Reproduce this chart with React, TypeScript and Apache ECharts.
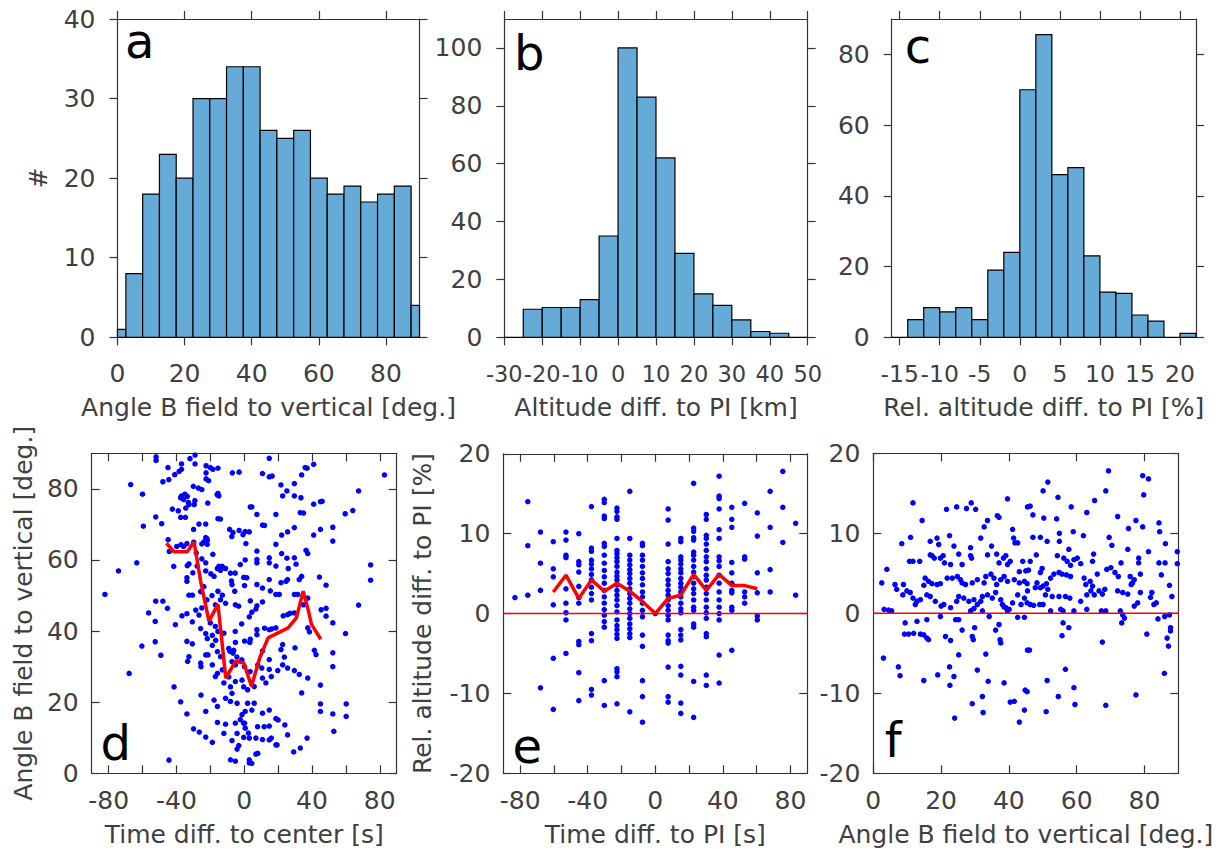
import React, { useEffect, useRef } from "react";
import * as echarts from "echarts";

// ---------- Histogram data ----------
const aBinEdges = [0, 2.5, 7.5, 12.5, 17.5, 22.5, 27.5, 32.5, 37.5, 42.5, 47.5, 52.5, 57.5, 62.5, 67.5, 72.5, 77.5, 82.5, 87.5, 90];
const aCounts = [1, 8, 18, 23, 20, 30, 30, 34, 34, 26, 25, 26, 20, 18, 19, 17, 18, 19, 4];

const bBinEdges = [-30, -25, -20, -15, -10, -5, 0, 5, 10, 15, 20, 25, 30, 35, 40, 45, 50];
const bCounts = [0, 9.7, 10.3, 10.3, 13, 35, 100, 83, 62, 29, 15, 11, 6, 2, 1.4, 0];

const cBinEdges = [-16, -14, -12, -10, -8, -6, -4, -2, 0, 2, 4, 6, 8, 10, 12, 14, 16, 18, 20, 22];
const cCounts = [0, 5, 8.4, 7.2, 8.4, 5, 19, 24, 70, 85.6, 46, 48, 23, 12.8, 12.4, 6.3, 4.6, 0, 1.1];

// ---------- Tick values ----------
const aXTicks = [0, 20, 40, 60, 80];
const aYTicks = [0, 10, 20, 30, 40];
const bXTicks = [-30, -20, -10, 0, 10, 20, 30, 40, 50];
const bYTicks = [0, 20, 40, 60, 80, 100];
const cXTicks = [-15, -10, -5, 0, 5, 10, 15, 20];
const cYTicks = [0, 20, 40, 60, 80];
const timeTicks = [-80, -60, -40, -20, 0, 20, 40, 60, 80];
const timeLabels = [-80, -40, 0, 40, 80];
const dYTicks = [0, 20, 40, 60, 80];
const relTicks = [-20, -10, 0, 10, 20];
const fXTicks = [0, 20, 40, 60, 80];

// ---------- Scatter d: time diff to center vs angle ----------
const dPoints = [
  [-52, 89], [-52, 88], [-48, 82], [-44.5, 82.6], [-45, 86], [-41, 84], [-37, 87], [-37, 85.5], [-38.4, 84.9], [-32, 88.5], [-29, 89.5], [-29, 87], [-22.5, 86.5], [-22.5, 84.5], [-22.5, 82.8], [-20, 86], [-18.5, 85.5], [-15.5, 85.8], [-7, 84.5], [-3, 84.7],
  [-67, 81.2], [-60, 78.5], [-37, 78], [-35.8, 77], [-33, 76.2], [-35, 78.5], [-30, 80.7], [-27, 80.2], [-25, 79.8], [-21.5, 76], [-21, 82.3], [-16, 78.4], [-15, 78], [-37.5, 77.5], [-33.6, 77.9], [-29.1, 76.7], [-29.5, 75.6], [-32.6, 75.6], [-34.5, 74.6], [-15.5, 78.7],
  [-59.5, 69.5], [-52.2, 72.1], [-48.7, 70.2], [-42.4, 74.3], [-38.9, 73.8], [-37.5, 72], [-34.7, 72], [-29.9, 68.6], [-26.7, 70.1], [-22.7, 70.1], [-22.7, 66.3], [-21.8, 65.5], [-18.5, 61.6], [-15.5, 71.6], [-14, 71.5], [-8.6, 68.6], [-6.6, 67.7], [-7.3, 66.6], [-3, 68.3], [-0.7, 67.1],
  [-63.4, 59.2], [-74.2, 56.9], [-44.9, 65.7], [-44.2, 62.4], [-41.6, 58.2], [-39.8, 63.8], [-37.3, 64.3], [-35.7, 63.8], [-33.8, 64.6], [-29.8, 65], [-25, 64.5], [-23.8, 65.1], [-21.8, 64.4], [-22, 66], [-28.3, 62], [-25, 60.3], [-32.6, 58.9], [-33.6, 58.4], [-30.3, 56.4], [-27.8, 58.3], [-22.7, 59.2], [-22.7, 56.9], [-19.7, 56.1], [-17.8, 55.4], [-15.8, 57.6], [-14, 57.1], [-11, 57.6], [-8.1, 56.3], [-7.5, 54.1], [-7.2, 53.1], [-5.6, 51.2], [-2.3, 58.7], [-0.3, 55.1], [-15, 58.2], [-13, 58.2], [-5.3, 56.3],
  [-82.2, 50.3], [-56.4, 45.1], [-52.5, 42.7], [-52.2, 48.4], [-45.3, 46.4], [-48, 48.4], [-33.8, 55], [-33.8, 54], [-32.6, 50.1], [-30.6, 50.1], [-25.7, 51.1], [-23.8, 52.5], [-12.9, 50.1], [-11, 47.8], [-28.6, 45.9], [-26.7, 44.5], [-30.6, 42.6], [-25.7, 40.7], [-22.7, 39.3], [-18.8, 38.8], [-16.8, 37.4], [-33.8, 37.1], [-30.6, 36.4], [-21.8, 37.9], [-18.8, 36], [-9.1, 35.1], [-6.2, 34.6], [-5.2, 36.8], [-5.2, 47.4], [-15.5, 51.2], [-19, 50], [-14, 48.8], [-17, 47.4], [-22, 48.8], [-25, 46.5],
  [-40.6, 41.8], [-36.7, 44.3], [-33.8, 44.9], [-20, 42.3], [-17, 41.3], [-15.5, 39.9], [-12, 39.4], [-5.3, 39.9], [-3.3, 47], [-1.5, 42],
  [-60.4, 35.8], [-52.5, 37], [-49.2, 33.2], [-67.9, 28.1],
  [-15.8, 34.2], [-13.9, 32.8], [-7.2, 31.4], [-5.2, 30.5], [-32.6, 32.8], [-22.7, 33.3], [-18.8, 30.5], [-15.8, 28.1], [-12.9, 29.1], [-25.7, 31], [-9.1, 27.1], [-8.1, 24.3], [-7.2, 22.5], [-5.2, 25.8], [-1.3, 26.2], [-0.3, 24.3], [-11, 21.1], [-8.1, 20.2], [-4.2, 19.7], [-17.8, 20.6], [-15.8, 18.8], [-22.7, 17.4], [-41.4, 24.3], [-37.5, 20.1], [-33.8, 16.7], [-29.9, 12.5], [-26.5, 11.6], [-22.7, 10.2], [-18.8, 8.7], [-15.8, 14.3], [-11, 13.8], [-12, 11.2], [-7.2, 9.2], [-4.2, 11.2], [-5.2, 14.1], [-0.3, 14.1], [-3.2, 7.8], [-4.2, 6.8], [-0.3, 10.1], [-8.1, 3.8], [-5.2, 3.4], [-44.4, 3.7], [-1.3, 16.5], [-2.3, 15.1], [-25.5, 22], [-12, 25.4], [-17, 27.2], [-21.4, 33.3], [-1.4, 31.9], [-4.3, 32.7], [-8.4, 34.3], [-6.6, 33.8], [-25.5, 30], [-33.4, 31.5],
  [14.8, 88.6], [10.8, 84.3], [14.8, 83.4], [21.7, 81.1], [25.2, 79.4], [29.6, 81.5], [22.7, 78], [29.6, 78], [33.5, 77.5], [37.1, 85.8], [41, 86.9], [33.9, 83.9], [82.8, 83.9], [67.5, 79.4], [59.6, 73], [64.1, 73.9], [41, 75.7], [45, 76.4], [3.6, 74.9], [7.5, 72.8], [18.7, 72.8], [33.1, 73.3], [10.8, 69.8], [22.1, 67], [25.6, 67.9], [29.6, 69.1], [41, 67], [45, 68.6], [52.3, 69.2], [52.3, 65.3], [3, 67.9], [18.7, 64.4], [22.1, 61.8], [25.2, 60.5], [7.5, 62.5], [7.5, 60.1], [7.5, 59.2], [14.8, 60.6], [14.8, 59.2], [18.7, 58.3], [29.6, 60.6], [30.6, 58.8], [26, 57.6], [36.5, 62.7], [37.5, 61.8], [74.6, 58.6], [74.6, 54.3], [44.4, 55.2], [48.3, 52.9], [7.5, 53.1], [10.8, 52.1], [14.8, 54.5], [21.7, 53.6], [24.7, 54], [25.6, 54.5], [15.4, 51.3], [18.7, 50.3], [29.6, 50.3], [31.6, 50.3], [32.5, 54.5], [33.9, 55.4], [3.6, 48.5], [7.5, 47.1], [6.9, 46.2], [10.8, 48.2], [20.7, 50.3], [25.6, 44.6], [29.6, 45.1], [37.5, 49.3], [37.5, 40.9], [45.4, 46], [48.3, 46.4], [48.3, 44.2], [52.3, 42.3], [38.5, 39.8], [41.4, 34.6], [42.4, 33.4], [52.3, 33.9], [52.3, 30], [59.8, 39.3], [67.5, 47.3], [3, 44], [3.6, 37.7], [7.5, 40.4], [7.5, 39], [14.8, 40.4], [18.7, 40.9], [10.8, 34.4], [14.8, 32], [14.8, 29.2], [21.7, 34.8], [22.7, 36.2], [23.7, 32.7], [22.7, 30.5], [25.6, 29.6], [10.8, 26.8], [12.8, 25.4], [30, 35.3], [29.6, 28.9], [32.5, 27.8], [37.5, 26.8], [33.9, 22.6], [45, 24.8], [45, 19.5], [45, 17.4], [52.3, 16.7], [52.9, 11.8], [60.2, 19.5], [60.2, 16], [2, 23.5], [5.9, 24.4], [2, 19.7], [5.9, 19.7], [10.8, 16.9], [14.8, 17.8], [7.9, 13.1], [11.8, 13.1], [14.8, 13.3], [18.7, 15.4], [3, 9.9], [6.9, 9.9], [10.8, 9.5], [14.8, 9.4], [18.7, 8], [25.6, 10.8], [29.2, 6], [33.1, 7.1], [37.1, 9.9], [3, 3.8], [3, 2.9], [6.9, 5.4],
  [1.5, 55], [0.2, 52.8], [0.2, 37.2], [3.3, 36.8], [4.5, 45.3], [0.2, 30], [3.5, 28.6], [0.6, 17.4], [4.5, 17.8], [0.2, 14.1], [0.6, 12.7], [2.5, 11.3], [4.5, 2.8], [8, 5.6], [16, 9.9], [19.4, 8], [24, 13.6], [20, 15], [12, 40.8], [16.3, 40.6], [8, 30.5], [10.4, 29.6], [16, 27.2], [19.8, 28.9], [23, 44.3], [27, 45], [35, 47.4], [46, 76.5], [35, 73.2], [16.5, 83.6], [36, 86], [12, 69.7], [0.6, 60], [1, 64.6], [0.6, 68], [4.5, 74.9],
];
const dTrend = [
  [-45.9, 64.7], [-41.4, 62.3], [-33.6, 62.3], [-29.6, 65.1], [-25.7, 54], [-20.8, 42.8], [-15.5, 47.5], [-12.9, 36], [-10.9, 26.8], [-5.1, 31.5], [-0.2, 31], [4.3, 24.5], [9.2, 32.5], [14.1, 38.1], [20, 39.5], [25.9, 40.9], [30.8, 43.7], [34.8, 51.2], [37.7, 46.1], [39.7, 41.9], [45.2, 37.7],
];

// ---------- Scatter e: time diff to PI vs relative altitude diff ----------
const ePoints = [
  [-83.1, 2.0],
  [-75.5, 14], [-75.5, 8.5], [-75.5, 2.3],
  [-68, 10.2], [-68, 6.3], [-68, 2.9], [-68, -9.3],
  [-60.4, 9], [-60.4, 5.6], [-60.4, 4.6], [-60.4, 1.1], [-60.4, -5.6], [-60.4, -12],
  [-52.9, 10.2], [-52.9, 9.2], [-52.9, 7.3], [-52.9, 7.0], [-52.9, 3.1], [-52.9, 1.3], [-52.9, 0.1], [-52.9, -0.8], [-52.9, -5],
  [-45.3, 10], [-45.3, 6.5], [-45.3, 6.1], [-45.3, 5.2], [-45.3, 3.4], [-45.3, 2], [-45.3, 1.3], [-45.3, -3.5], [-45.3, -3.9], [-45.3, -7.4], [-45.3, -10.9],
  [-37.8, 13.4], [-37.8, 8.2], [-37.8, 7.8], [-37.8, 6.7], [-37.8, 6.2], [-37.8, 5.6], [-37.8, 4.9], [-37.8, 4.2], [-37.8, 3.3], [-37.8, 2.5], [-37.8, 1.7], [-37.8, -2.5], [-37.8, -3.4], [-37.8, -9.5], [-37.8, -10.2],
  [-30.2, 14.3], [-30.2, 13.9], [-30.2, 12.2], [-30.2, 11.9], [-30.2, 8.8], [-30.2, 8.4], [-30.2, 7.3], [-30.2, 6.3], [-30.2, 5.4], [-30.2, 4.6], [-30.2, 3.8], [-30.2, 2.9], [-30.2, 2.1], [-30.2, 1.3], [-30.2, 0.5], [-30.2, -0.2], [-30.2, -1.0], [-30.2, -1.7], [-30.2, -8.4], [-30.2, -11.5],
  [-22.7, 13.2], [-22.7, 12.8], [-22.7, 12.1], [-22.7, 11.8], [-22.7, 9.4], [-22.7, 7.9], [-22.7, 7.5], [-22.7, 7], [-22.7, 6.5], [-22.7, 5.9], [-22.7, 5.2], [-22.7, 4.7], [-22.7, 4.2], [-22.7, 3.6], [-22.7, 2.9], [-22.7, 2.3], [-22.7, 1.7], [-22.7, 1], [-22.7, 0.2], [-22.7, -0.8], [-22.7, -1.5], [-22.7, -2], [-22.7, -2.6], [-22.7, -3.1], [-22.7, -6.9], [-22.7, -7.3], [-22.7, -7.9], [-22.7, -11.3],
  [-15.1, 15.3], [-15.1, 9.4], [-15.1, 7.3], [-15.1, 6.7], [-15.1, 6.1], [-15.1, 5.5], [-15.1, 5], [-15.1, 4.4], [-15.1, 3.8], [-15.1, 3.1], [-15.1, 2.5], [-15.1, 1.9], [-15.1, 1.3], [-15.1, 0.6], [-15.1, 0], [-15.1, -0.6], [-15.1, -1.3], [-15.1, -1.9], [-15.1, -2.5], [-15.1, -3], [-15.1, -12.3],
  [-7.6, 8.8], [-7.6, 8.5], [-7.6, 7.3], [-7.6, 6.7], [-7.6, 5.9], [-7.6, 5.1], [-7.6, 4.4], [-7.6, 3.6], [-7.6, 2.7], [-7.6, 2.1], [-7.6, 1.3], [-7.6, 0.4], [-7.6, -0.4], [-7.6, -2.7], [-7.6, -4.1], [-7.6, -8.4], [-7.6, -10.4], [-7.6, -13.6],
  [0, 0],
  [7.6, 13.1], [7.6, 11.7], [7.6, 8.7], [7.6, 6.5], [7.6, 5.6], [7.6, 5], [7.6, 4.2], [7.6, 3.6], [7.6, 2.9], [7.6, 2.3], [7.6, 1.7], [7.6, 1], [7.6, 0.4], [7.6, -0.2], [7.6, -0.8], [7.6, -2.7], [7.6, -3.4], [7.6, -3.7], [7.6, -6.7], [7.6, -10.4], [7.6, -11.1],
  [15.1, 9.4], [15.1, 9], [15.1, 7.1], [15.1, 6.7], [15.1, 6.2], [15.1, 5.6], [15.1, 5.1], [15.1, 4.4], [15.1, 3.8], [15.1, 3.3], [15.1, 2.7], [15.1, 2.1], [15.1, 1.3], [15.1, 0.6], [15.1, 0.1], [15.1, -2], [15.1, -2.7], [15.1, -3.3], [15.1, -6.6], [15.1, -7.7], [15.1, -11.2], [15.1, -12.5],
  [22.7, 16.3], [22.7, 10.7], [22.7, 10.3], [22.7, 9.5], [22.7, 9.2], [22.7, 7.7], [22.7, 7.3], [22.7, 6.7], [22.7, 5.9], [22.7, 5.2], [22.7, 4.6], [22.7, 3.8], [22.7, 3.1], [22.7, 2.5], [22.7, 1.7], [22.7, 0.8], [22.7, 0.4], [22.7, -1.3], [22.7, -1.7], [22.7, -8.5], [22.7, -13],
  [30.2, 12.4], [30.2, 11.8], [30.2, 9.8], [30.2, 9.4], [30.2, 8.7], [30.2, 7.9], [30.2, 7.1], [30.2, 6.5], [30.2, 5.6], [30.2, 4.8], [30.2, 4.2], [30.2, 3.3], [30.2, 2.5], [30.2, 1.7], [30.2, 0.8], [30.2, 0.1], [30.2, -0.6], [30.2, -2.5], [30.2, -2.9], [30.2, -7.7], [30.2, -9],
  [37.8, 17.2], [37.8, 14.7], [37.8, 14.4], [37.8, 13.1], [37.8, 10.5], [37.8, 9.4], [37.8, 7.1], [37.8, 6.6], [37.8, 5.9], [37.8, 4.8], [37.8, 3.8], [37.8, 2.7], [37.8, 1.7], [37.8, 0.8], [37.8, 0], [37.8, -0.8], [37.8, -5.2], [37.8, -8.7],
  [45.3, 13.3], [45.3, 11.8], [45.3, 10.8], [45.3, 6.4], [45.3, 5.1], [45.3, 3.8], [45.3, 2.9], [45.3, 2.6], [45.3, 0.8], [45.3, 0.4], [45.3, -4.6],
  [52.9, 13.8], [52.9, 7.1], [52.9, 6.8], [52.9, 2.7], [52.9, 2.1], [52.9, 1.3],
  [60.4, 12.6], [60.4, 9.7], [60.4, 5.1], [60.4, 2.6], [60.4, -0.3], [60.4, -0.8],
  [68, 15.3], [68, 10.8], [68, 5.5], [68, 2.7],
  [75.5, 17.8], [75.5, 13.3], [75.5, 8.9],
  [83.1, 11.3], [83.1, 2.3],
];
const eTrend = [
  [-60.4, 2.7], [-52.9, 4.8], [-45.3, 1.9], [-37.8, 4.2], [-30.2, 2.8], [-22.7, 3.8], [-15.1, 2.8], [-7.6, 1.5], [0, 0], [7.6, 1.9], [15.1, 2.3], [22.7, 4.9], [30.2, 2.9], [37.8, 4.9], [45.3, 3.5], [52.9, 3.5], [60.4, 3.1],
];
const eZeroLine = [[-90, 0], [90, 0]];

// ---------- Scatter f: angle vs relative altitude diff ----------
const fPoints = [
  [11.7, 13.8], [21.6, 13.0], [24.6, 13.3], [27.5, 13.1], [28.9, 13.8], [30.2, 13.0], [39.6, 14.3], [45.5, 13.3],
  [14.4, 11.6], [33.7, 11.6], [32.7, 10.8], [36.6, 12.2], [37.1, 12.0],
  [22.5, 9.7], [11, 9.5], [8.4, 8.7], [16.8, 9.0], [18.8, 9.4], [19.3, 8.6], [23.8, 8.4], [31.7, 9.4], [41.1, 10.5], [41.4, 9.4], [41.8, 8.8], [42.6, 8.8],
  [28.7, 8.2], [34.9, 8.4],
  [10.7, 6.5], [11.7, 6.5], [13.7, 6.5], [16.8, 7.3], [17.3, 7.2], [18, 6.9], [19.8, 6.9], [20.6, 7.2], [21, 6.3], [22.8, 6.1], [25.2, 7.4], [26.2, 6.1], [28.7, 7.2], [29, 6.9], [33.7, 7.3], [36.4, 7.4], [37.1, 6.3], [38.4, 6.9], [39.1, 7.2], [39.6, 6.1], [40.4, 6.5], [44.1, 6.5], [43.1, 5.2], [45, 5.3],
  [15.3, 4.4], [16.3, 4], [14.9, 3.5], [17.3, 3.7], [18.8, 3.6], [19.8, 3.7], [21.8, 4.4], [23.3, 4.4], [24.8, 4.6], [25.7, 4.2], [26.2, 3.8], [27.2, 3.6], [29.2, 3.8], [30.7, 4.2], [32.7, 3.8], [33.2, 4.6], [34.7, 4.9], [35.6, 4.4], [36.4, 3.6], [37.6, 4.2], [38.6, 4.6], [39.6, 4], [41.6, 4.2], [43.1, 3.8], [44.6, 4],
  [2.5, 3.8], [6.4, 3.6], [6.9, 3], [8.9, 3.6], [8.7, 2.3], [9.9, 2.8], [10.9, 2.6], [11.7, 1.9], [12.9, 1.5], [12.4, 1.1], [13.9, 1.7], [15.8, 2.3], [16.8, 2.1], [18.3, 1.5], [20, 0.9], [20.8, 1.1], [22.8, 0.7], [24.6, 1.5], [25.2, 2.1], [26.7, 1.9], [28.2, 1.5], [29.7, 1.7], [30.7, 1.1], [31.7, 1.5], [32.2, 2.1], [33.7, 2.3], [35.1, 1.9], [36.1, 2.6], [37.6, 1.7], [38.1, 1.1], [39.1, 0.7], [40.1, 0.5], [41.1, 1.3], [42.6, 2.3], [43.6, 1.1], [44.6, 1.9], [45.5, 2.8],
  [3.2, 0.5], [4.5, 0.4], [5.4, 0.3], [4, 5.5], [19.8, -0.4], [24.3, -0.8], [25.2, -0.8], [28.7, 0.3], [29.7, 0.6], [32.2, 0.3], [34.2, -0.4], [38.6, 0.8], [39.6, 0.3], [42.6, -0.5], [44.6, -0.5],
  [9.4, -1.2], [12.9, -1], [15.8, -0.8], [26.2, -2.1], [29.2, -2.9], [29.5, -3.3], [29.9, -1.8], [36.1, -2.1], [37.1, -1.4], [37.4, -3.3], [37.6, -3.7], [45.5, -4.6],
  [9.2, -2.6], [10.4, -2.6], [11.9, -2.5], [13.9, -2.6], [14.9, -2.7], [15.8, -3.1], [16.3, -3.3], [21.3, -2.9], [22.8, -3.4], [33.2, -5.1], [25.2, -5.2],
  [3, -5.6], [7.4, -6.7], [7.9, -7.8], [14.9, -8.4], [19, -7.7], [22.5, -6.7], [22.6, -9], [23.8, -7.9], [30.7, -7.1], [33.9, -8.5], [38.6, -8.7], [44.8, -9.6],
  [29.2, -11.3], [32.2, -10.4], [32.4, -12.4], [40.4, -11.1], [41.6, -11], [43.1, -13.6], [24, -13.1], [44.6, -12.1],
  [69.4, 17.8], [79.5, 17.2], [81.2, 16.8], [51.5, 16.4], [50.1, 15.3], [68.6, 15.3], [79.8, 14.8], [54.5, 14.5], [46.3, 13.4], [47.1, 12.3], [58.4, 13.3], [65.3, 14.1], [63, 12.6], [50.3, 11.9], [54.1, 11.8], [72.1, 12.1], [77.5, 11.6], [79.5, 10.8], [84.3, 11.3], [75.3, 10.6], [84.5, 10.2], [86.2, 8.7], [89.7, 7.7], [89.7, 6.2],
  [47.1, 9.5], [49.3, 9.5], [51.3, 9.0], [54.9, 10], [54.9, 9.0], [59, 10.2], [62, 9.7], [69.6, 9.5], [70.4, 8.5], [75.1, 8.0], [81.2, 7.7], [78.3, 6.9], [78.3, 6.3], [84.3, 6.3], [86.1, 6.3], [73.1, 6.3], [65, 7.4], [64.7, 6.5], [57.7, 8.0], [48.1, 7.3],
  [54.3, 7.2], [56.2, 6.9], [57.2, 6.5], [59.2, 6.7], [60.2, 6.9], [61.2, 6.2], [58.2, 6.0], [46.3, 6.5], [45.8, 5.4], [49.8, 5.6], [49.3, 5.1], [48.3, 3.8], [50.1, 3.4], [51.1, 3.7], [51.5, 3.0], [52.3, 4.4],
  [53.3, 4.9], [54.8, 5.1], [55.7, 4.9], [57, 4.8], [58.2, 4.6], [62.2, 4.4], [64, 4.0], [62.7, 3.6], [64.7, 3.4], [66.1, 4.9], [68.9, 5.5], [70.1, 5.7], [71.3, 5.1], [72.3, 4.6], [75.8, 4.6], [76.5, 3.8], [77, 4.2], [78.8, 4.9], [85, 4.8], [87.4, 3.5], [88.1, 2.1],
  [45.4, 3.7], [47.8, 3.2], [49.3, 3.2], [50.8, 2.3], [52.8, 2.1], [54.8, 2.1], [56.7, 2.1], [58, 1.9], [61.2, 1.5], [63, 2.3], [64.2, 2.8], [65.2, 2.3], [66.6, 2.8], [67.6, 2.4], [68.3, 3.0], [72.1, 2.8], [73.6, 2.6], [75.1, 2.4], [76.1, 3.6], [77, 0.9], [78, 1.3], [78.8, 2.6], [82.2, 2.6], [81.8, 2.0], [83.5, 1.3], [82.8, 1.1],
  [45.4, 1.3], [46.3, 1.1], [47.3, 1.0], [49.1, 1.1], [50.1, 1.1], [52.3, 0.3], [55.3, 0.5], [56, 0.3], [59.2, 0.3], [63, 0.5], [67.3, 0.3], [68.6, 0.3], [72.9, 0.3], [73.6, -0.2], [74.1, -0.6], [73.3, -1.2], [84, -0.7], [86, -0.4], [87.4, -0.2], [87.7, -1.8], [87.7, -2.2], [86.7, -3.1], [87.1, -4.1],
  [56, -1.2], [57.7, -1.8], [55.7, -2.8], [67.6, -3.6], [80.7, -2.6], [46.1, -4.6],
  [56.7, -7.0], [85.9, -7.5], [51.3, -8.4], [59.2, -9.3], [54.6, -10.4], [77.5, -10.2], [59.5, -11.4], [68.6, -11.5], [51, -12.3], [45.4, -9.8],
];
const fZeroLine = [[0, 0], [90, 0]];

// ---------- styling ----------
const FONT = "'DejaVu Sans', sans-serif";
const TXT = "#404040";
const LINE = "#333333";
const FS = 25;
const BAR = "#66aad7";

const panels = [
  { grid: { left: 117.5, top: 19, width: 302, height: 318.3 }, x: [0, 90], xTicks: aXTicks, xLabels: aXTicks, xFs: 25, y: [0, 40], yTicks: aYTicks, inside: false, xName: "Angle B field to vertical [deg.]", yName: "#", xMargin: 24, yMargin: 22, xGap: 58, yGap: 67 },
  { grid: { left: 504.3, top: 19, width: 303.4, height: 318.3 }, x: [-30, 50], xTicks: bXTicks, xLabels: bXTicks, xFs: 22.5, y: [0, 110], yTicks: bYTicks, inside: false, xName: "Altitude diff. to PI [km]", yName: "", xMargin: 25, yMargin: 22, xGap: 58, yGap: 67 },
  { grid: { left: 891.7, top: 19, width: 304.3, height: 318.3 }, x: [-16, 22], xTicks: cXTicks, xLabels: cXTicks, xFs: 23.5, y: [0, 90], yTicks: cYTicks, inside: false, xName: "Rel. altitude diff. to PI [%]", yName: "", xMargin: 25, yMargin: 22, xGap: 58, yGap: 67 },
  { grid: { left: 91.7, top: 453.3, width: 305, height: 320 }, x: [-90, 90], xTicks: timeTicks, xLabels: timeLabels, xFs: 25, y: [0, 90], yTicks: dYTicks, inside: true, xName: "Time diff. to center [s]", yName: "Angle B field to vertical [deg.]", xMargin: 15, yMargin: 13, xGap: 49, yGap: 56 },
  { grid: { left: 503.3, top: 453.8, width: 304, height: 319.5 }, x: [-90, 90], xTicks: timeTicks, xLabels: timeLabels, xFs: 25, y: [-20, 20], yTicks: relTicks, inside: true, xName: "Time diff. to PI [s]", yName: "Rel. altitude diff. to PI [%]", xMargin: 15, yMargin: 13, xGap: 49, yGap: 68 },
  { grid: { left: 873.3, top: 453.3, width: 305, height: 320 }, x: [0, 90], xTicks: fXTicks, xLabels: fXTicks, xFs: 25, y: [-20, 20], yTicks: relTicks, inside: true, xName: "Angle B field to vertical [deg.]", yName: "", xMargin: 15, yMargin: 13, xGap: 49, yGap: 68 },
];

const letters = [
  { t: "a", x: 125, y: 41.4 },
  { t: "b", x: 514, y: 53.4 },
  { t: "c", x: 904.7, y: 46.4 },
  { t: "d", x: 100.6, y: 743.4 },
  { t: "e", x: 512.4, y: 746.4 },
  { t: "f", x: 884.7, y: 740.4 },
];

function axis(i: number, p: any, isX: boolean, main: boolean) {
  const lineStyle = { color: LINE, width: 1.2 };
  const textStyle = { fontSize: FS, fontFamily: FONT, color: TXT };
  const range = isX ? p.x : p.y;
  const ticks = isX ? p.xTicks : p.yTicks;
  const labels = isX ? p.xLabels : p.yTicks;
  const name = main ? (isX ? p.xName : p.yName) : "";
  return {
    type: "value",
    gridIndex: i,
    position: isX ? (main ? "bottom" : "top") : main ? "left" : "right",
    min: range[0],
    max: range[1],
    axisLine: { show: true, onZero: false, lineStyle },
    axisTick: { show: true, inside: p.inside, length: 8, lineStyle, customValues: ticks },
    minorTick: { show: false },
    splitLine: { show: false },
    axisLabel: {
      show: main,
      customValues: labels,
      interval: 0,
      margin: isX ? p.xMargin : p.yMargin,
      hideOverlap: false,
      showMinLabel: true,
      showMaxLabel: true,
      ...textStyle,
      fontSize: isX ? p.xFs : FS,
    },
    name,
    nameLocation: "middle",
    nameGap: isX ? p.xGap : p.yGap,
    nameTextStyle: textStyle,
    silent: true,
  };
}

function histSeries(i: number, edges: number[], counts: number[]) {
  const data = counts.map((v, k) => [edges[k], edges[k + 1], v]);
  return {
    type: "custom",
    xAxisIndex: 2 * i,
    yAxisIndex: 2 * i,
    data,
    encode: { x: [0, 1], y: 2 },
    silent: true,
    z: 2,
    renderItem: (_params: any, api: any) => {
      const p0 = api.coord([api.value(0), api.value(2)]);
      const p1 = api.coord([api.value(1), 0]);
      return {
        type: "rect",
        shape: { x: p0[0], y: p0[1], width: p1[0] - p0[0], height: p1[1] - p0[1] },
        style: { fill: BAR, stroke: "#000", lineWidth: 1.2 },
      };
    },
  };
}

function scatterSeries(i: number, pts: number[][]) {
  return {
    type: "scatter",
    xAxisIndex: 2 * i,
    yAxisIndex: 2 * i,
    data: pts,
    symbol: "circle",
    symbolSize: 5.5,
    itemStyle: { color: "#0000ff", opacity: 1 },
    silent: true,
    z: 3,
  };
}

function lineSeries(i: number, pts: number[][], width: number) {
  return {
    type: "line",
    xAxisIndex: 2 * i,
    yAxisIndex: 2 * i,
    data: pts,
    showSymbol: false,
    symbol: "none",
    lineStyle: { color: "#ff0000", width },
    silent: true,
    z: 4,
  };
}

export default function App() {
  const ref = useRef<HTMLDivElement>(null);
  useEffect(() => {
    if (!ref.current) return;
    const chart = echarts.init(ref.current, null, { renderer: "svg" });
    const xAxis: any[] = [];
    const yAxis: any[] = [];
    panels.forEach((p, i) => {
      xAxis.push(axis(i, p, true, true), axis(i, p, true, false));
      yAxis.push(axis(i, p, false, true), axis(i, p, false, false));
    });
    const option: any = {
      animation: false,
      backgroundColor: "#ffffff",
      textStyle: { fontFamily: FONT },
      grid: panels.map((p) => ({ ...p.grid, containLabel: false })),
      xAxis,
      yAxis,
      series: [
        histSeries(0, aBinEdges, aCounts),
        histSeries(1, bBinEdges, bCounts),
        histSeries(2, cBinEdges, cCounts),
        scatterSeries(3, dPoints),
        lineSeries(3, dTrend, 3.5),
        scatterSeries(4, ePoints),
        lineSeries(4, eZeroLine, 1.5),
        lineSeries(4, eTrend, 3.5),
        scatterSeries(5, fPoints),
        lineSeries(5, fZeroLine, 1.5),
      ],
      graphic: letters.map((l) => ({
        type: "text",
        x: l.x,
        y: l.y,
        z: 10,
        style: {
          text: l.t,
          fontSize: 48,
          fontFamily: FONT,
          fill: "#000",
          verticalAlign: "middle",
          textVerticalAlign: "middle",
        },
      })),
    };
    chart.setOption(option);
    return () => chart.dispose();
  }, []);
  return (
    <div
      ref={ref}
      style={{ position: "absolute", left: 0, top: 0, width: 1225, height: 854, background: "#fff" }}
    />
  );
}
